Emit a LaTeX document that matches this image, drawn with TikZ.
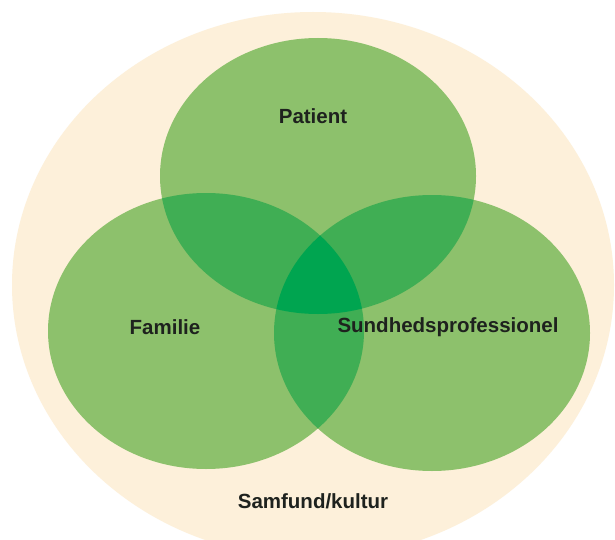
\documentclass[tikz,border=0pt]{standalone}
\usepackage{fontspec}
\setmainfont{Liberation Sans}
\definecolor{kultur}{RGB}{253,240,218}
\definecolor{lysgroen}{RGB}{141,193,108}
\definecolor{mellemgroen}{RGB}{64,174,84}
\definecolor{moerkgroen}{RGB}{0,165,80}
\definecolor{tekst}{RGB}{30,34,30}
\tikzset{lbl/.style={font=\bfseries\fontsize{20.5}{24}\selectfont,text=tekst,inner sep=0pt}}
\begin{document}
\begin{tikzpicture}[x=1pt,y=-1pt]
\useasboundingbox [fill=white] (0,0) rectangle (615,540);
% samfund/kultur
\fill [kultur] (313,285) ellipse [x radius=301pt, y radius=273pt];
% de tre cirkler
\fill [lysgroen] (318,176) ellipse [x radius=158pt, y radius=138pt];
\fill [lysgroen] (206,331) ellipse [x radius=158pt, y radius=138pt];
\fill [lysgroen] (432,333) ellipse [x radius=158pt, y radius=138pt];
% parvise overlap
\begin{scope}
\clip (318,176) ellipse [x radius=158pt, y radius=138pt];
\fill [mellemgroen] (206,331) ellipse [x radius=158pt, y radius=138pt];
\fill [mellemgroen] (432,333) ellipse [x radius=158pt, y radius=138pt];
\end{scope}
\begin{scope}
\clip (206,331) ellipse [x radius=158pt, y radius=138pt];
\fill [mellemgroen] (432,333) ellipse [x radius=158pt, y radius=138pt];
\end{scope}
% midten
\begin{scope}
\clip (318,176) ellipse [x radius=158pt, y radius=138pt];
\clip (206,331) ellipse [x radius=158pt, y radius=138pt];
\fill [moerkgroen] (432,333) ellipse [x radius=158pt, y radius=138pt];
\end{scope}
\node (patient) at (313,116) [lbl] {Patient};
\node (familie) at (165,327) [lbl] {Familie};
\node (sundhed) at (448,327) [lbl] {Sundhedsprofessionel};
\node (samfund) at (313,501) [lbl] {Samfund/kultur};
\end{tikzpicture}
\end{document}
